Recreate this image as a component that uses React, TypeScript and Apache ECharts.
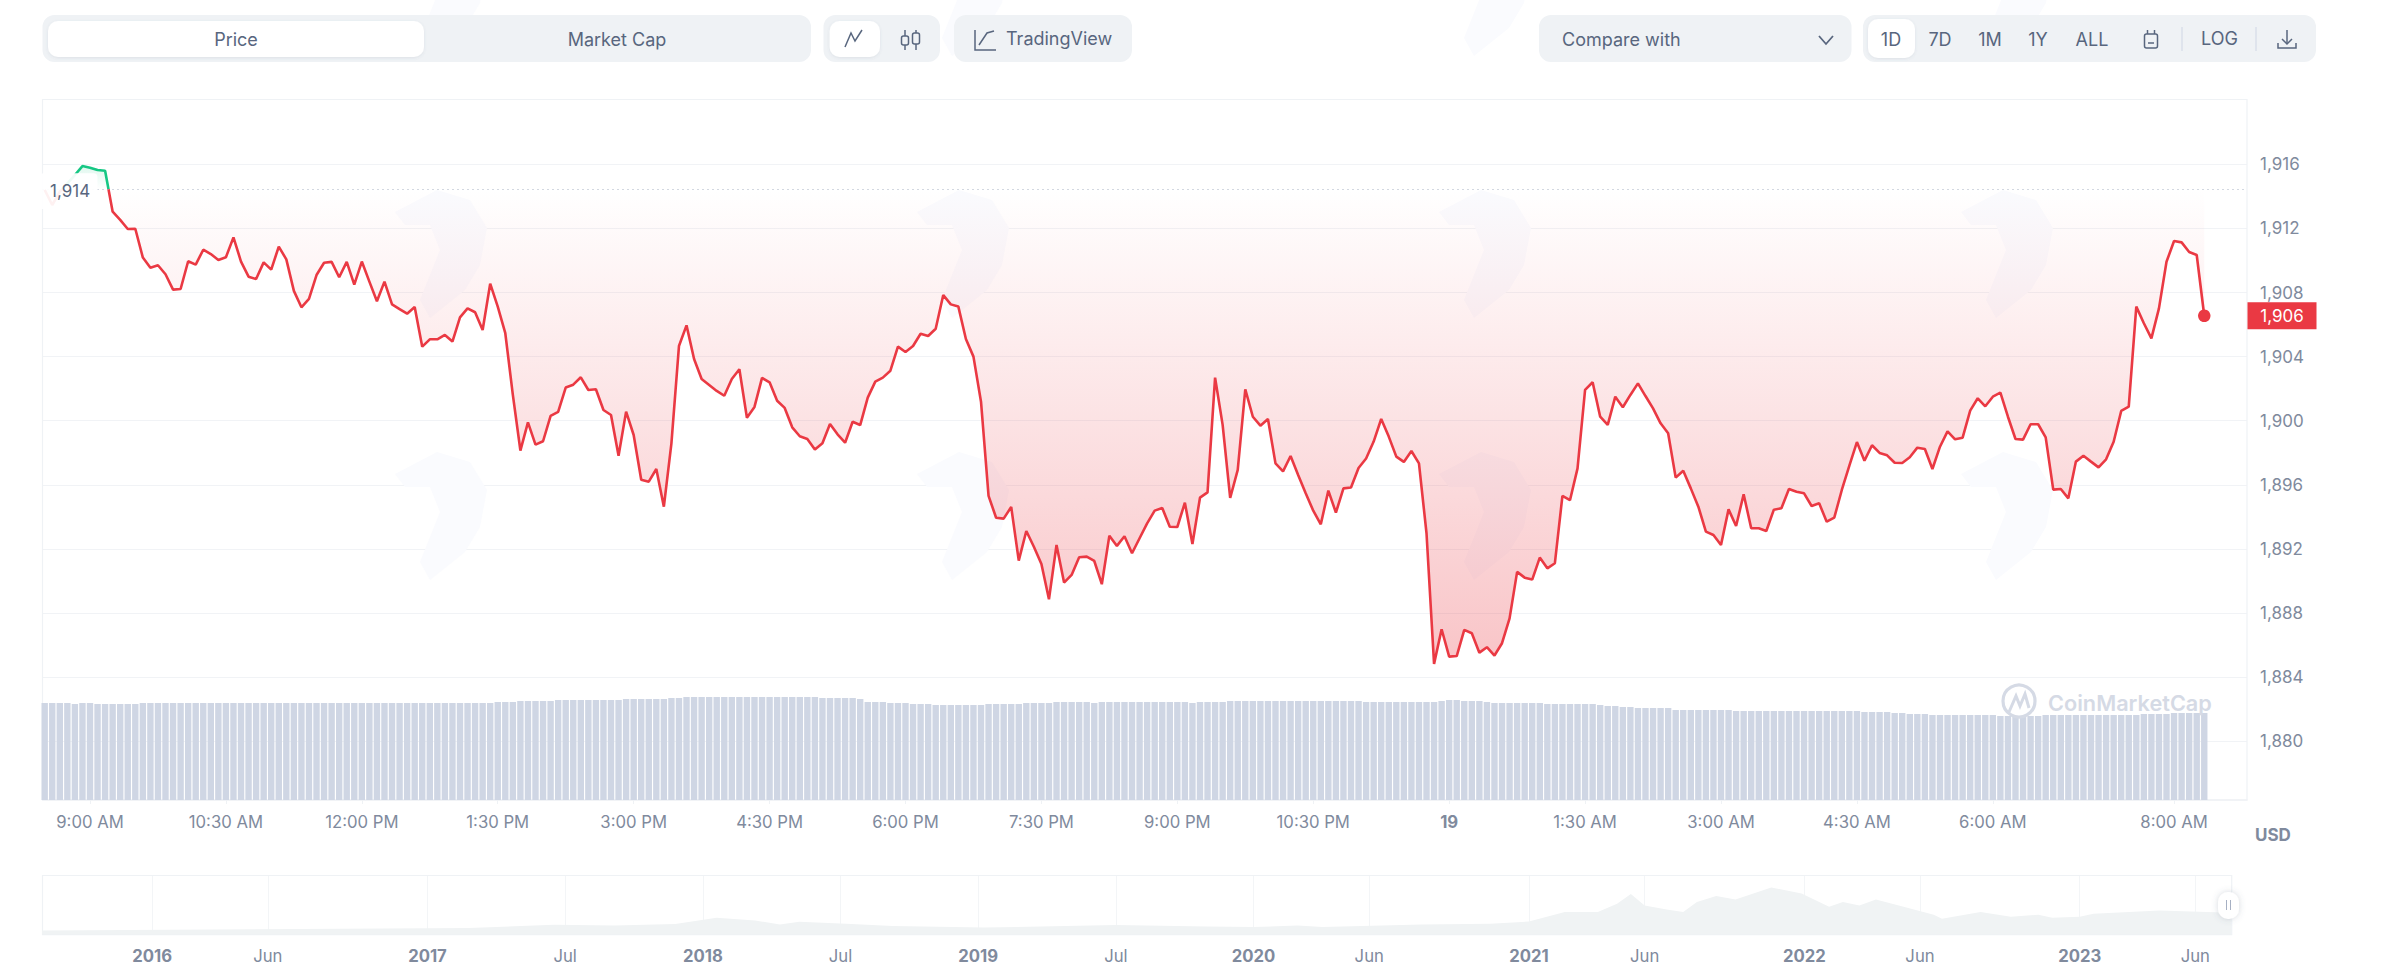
import React, { useEffect, useRef } from "react";
import * as echarts from "echarts";

const FONT = "Inter";
const RED = "#EA3943";
const GREEN = "#16C784";
const LABEL = "#808A9D";
const UI = "#58667E";
const PANEL = "#EFF2F5";

// Price every 5 minutes, starting 8:30 AM
const priceValues = [
  1914.4,1913.46,1914.29,1914.81,1915.33,1915.89,1915.79,1915.64,1915.6,1913.04,
  1912.53,1911.96,1911.98,1910.18,1909.55,1909.7,1909.14,1908.18,1908.22,1909.95,
  1909.74,1910.67,1910.4,1910.03,1910.2,1911.44,1909.93,1908.99,1908.84,1909.88,
  1909.43,1910.86,1910.07,1908.1,1907.08,1907.6,1909.09,1909.86,1909.91,1908.95,
  1909.91,1908.49,1909.93,1908.68,1907.45,1908.68,1907.26,1906.97,1906.68,1907.1,
  1904.62,1905.08,1905.08,1905.35,1904.94,1906.45,1907.01,1906.77,1905.66,1908.55,
  1907.12,1905.46,1901.61,1898.14,1899.9,1898.51,1898.72,1900.3,1900.55,1902.07,
  1902.25,1902.71,1901.92,1901.96,1900.67,1900.36,1897.82,1900.57,1899.11,1896.32,
  1896.2,1896.99,1894.64,1898.59,1904.66,1905.95,1903.85,1902.6,1902.23,1901.86,
  1901.56,1902.6,1903.21,1900.19,1900.86,1902.67,1902.4,1901.25,1900.8,1899.59,
  1899.03,1898.86,1898.2,1898.59,1899.8,1899.15,1898.63,1899.94,1899.73,1901.44,
  1902.44,1902.69,1903.12,1904.62,1904.29,1904.66,1905.43,1905.29,1905.74,1907.84,
  1907.26,1907.12,1905.1,1904.0,1901.19,1895.31,1893.95,1893.89,1894.62,1891.27,
  1893.12,1892.14,1891.06,1888.86,1892.25,1889.9,1890.38,1891.48,1891.52,1891.25,
  1889.8,1892.83,1892.19,1892.79,1891.73,1892.67,1893.6,1894.39,1894.56,1893.39,
  1893.37,1894.89,1892.31,1895.2,1895.53,1902.69,1899.74,1895.18,1896.93,1901.96,
  1900.25,1899.69,1900.11,1897.34,1896.84,1897.8,1896.62,1895.47,1894.39,1893.54,
  1895.64,1894.27,1895.78,1895.83,1897.05,1897.64,1898.7,1900.11,1899.01,1897.76,
  1897.43,1898.11,1897.34,1892.98,1884.83,1886.99,1885.28,1885.32,1886.95,1886.74,
  1885.53,1885.87,1885.35,1886.12,1887.67,1890.57,1890.21,1890.09,1891.46,1890.79,
  1891.11,1895.31,1895.04,1897.03,1901.92,1902.4,1900.25,1899.74,1901.5,1900.84,
  1901.61,1902.33,1901.54,1900.77,1899.84,1899.22,1896.45,1896.88,1895.78,1894.64,
  1893.08,1892.87,1892.25,1894.47,1893.43,1895.41,1893.29,1893.29,1893.12,1894.45,
  1894.54,1895.74,1895.57,1895.47,1894.68,1894.85,1893.7,1893.95,1895.68,1897.2,
  1898.67,1897.51,1898.47,1897.99,1897.84,1897.38,1897.36,1897.72,1898.32,1898.24,
  1896.99,1898.38,1899.34,1898.84,1898.94,1900.63,1901.4,1900.9,1901.5,1901.75,
  1900.25,1898.86,1898.82,1899.78,1899.78,1898.96,1895.7,1895.74,1895.16,1897.45,
  1897.82,1897.45,1897.09,1897.59,1898.69,1900.61,1900.88,1907.12,1906.08,1905.14,
  1907.01,1909.92,1911.21,1911.13,1910.53,1910.34,1906.55,
];

// Volume bars, same 5-minute steps
const volumeValues = [
  97,97,97,97,96,97,97,96,96,96,96,96,96,97,97,97,97,97,97,97,
  97,97,97,97,97,97,97,97,97,97,97,97,97,97,97,97,97,97,97,97,
  97,97,97,97,97,97,97,97,97,97,97,97,97,97,97,97,97,97,97,97,
  98,98,98,99,99,99,99,99,100,100,100,100,100,100,100,100,100,101,101,101,
  101,101,101,102,102,103,103,103,103,103,103,103,103,103,103,103,103,103,103,103,
  103,103,103,102,102,102,102,102,101,98,98,98,97,97,97,96,96,96,95,95,
  95,95,95,95,95,96,96,96,96,96,97,97,97,97,98,98,98,98,98,97,
  98,98,98,98,98,98,98,98,98,98,98,98,97,98,98,98,98,99,99,99,
  99,99,99,99,99,99,99,99,99,99,99,99,99,99,99,98,98,98,98,98,
  98,98,98,98,98,99,100,100,99,99,99,98,97,97,97,97,97,97,97,96,
  96,96,96,96,96,96,95,94,94,93,93,92,92,92,92,92,90,90,90,90,
  90,90,90,90,89,89,89,89,89,89,89,89,89,89,89,89,89,89,89,89,
  89,88,88,88,88,87,87,86,86,86,85,85,85,85,85,85,85,85,85,84,
  84,84,84,84,84,85,85,85,85,85,85,85,85,85,85,85,85,85,86,86,
  86,86,87,87,87,87,87,
];

const timeTickIndex = [6,24,42,60,78,96,114,132,150,168,186,204,222,240,258,282];
const timeTickLabels = ["9:00 AM","10:30 AM","12:00 PM","1:30 PM","3:00 PM","4:30 PM","6:00 PM","7:30 PM","9:00 PM","10:30 PM","19","1:30 AM","3:00 AM","4:30 AM","6:00 AM","8:00 AM"];

const navYears = [2015.6,2017.15,2017.46,2017.68,2017.9,2018.05,2018.19,2018.28,2018.35,2018.52,2018.69,2019.02,2019.5,2019.83,2020.0,2020.16,2020.25,2020.61,2020.86,2021.0,2021.13,2021.25,2021.32,2021.37,2021.42,2021.5,2021.56,2021.61,2021.68,2021.75,2021.88,2021.99,2022.09,2022.14,2022.2,2022.26,2022.35,2022.47,2022.5,2022.64,2022.75,2022.85,2022.9,2023.0,2023.05,2023.29,2023.55];
const navPrices = [400,640,970,900,1040,1670,1400,1000,1270,1070,840,700,940,800,740,900,740,1000,1070,1300,2240,2240,3070,4040,2900,2500,2240,3240,3840,3500,4700,4100,2770,3240,2900,3500,2840,1970,1570,2240,1770,1970,1670,1770,2070,2400,2170];
const navTickYears = [2016,2016.42,2017,2017.5,2018,2018.5,2019,2019.5,2020,2020.42,2021,2021.42,2022,2022.42,2023,2023.42];
const navTickLabels = ["2016","Jun","2017","Jul","2018","Jul","2019","Jul","2020","Jun","2021","Jun","2022","Jun","2023","Jun"];

const rangeButtons = ["1D","7D","1M","1Y","ALL"];
const baselineValue = 1914.44;

const txt = (text: string, x: number, y: number, o: any = {}) => ({
  type: "text", x, y, z: o.z ?? 5, silent: true,
  style: {
    text, fill: o.fill ?? UI,
    font: `${o.weight ?? 400} ${o.size ?? 18}px ${FONT}`,
    textAlign: o.align ?? "center", textVerticalAlign: "middle",
    ...(o.style ?? {}),
  },
});
const box = (x: number, y: number, w: number, h: number, r: number, fill: string, o: any = {}) => ({
  type: "rect", z: o.z ?? 3, silent: true,
  shape: { x, y, width: w, height: h, r },
  style: { fill, ...(o.style ?? {}) },
});
const stroke = (points: number[][], w = 1.6, color = UI) => ({
  type: "polyline", z: 5, silent: true,
  shape: { points }, style: { stroke: color, lineWidth: w, fill: "none" },
});

const softShadow = { shadowColor: "rgba(88,102,126,0.12)", shadowBlur: 3, shadowOffsetY: 1 };

function ghosts() {
  const out: any[] = [];
  const base = [[395,212],[437,190],[470,200],[487,228],[480,265],[465,290],[430,318],[420,300],[440,250],[430,225],[405,225]];
  [0, 522, 1044, 1566].forEach((dx) => {
    [-262, 0, 262].forEach((dy) => {
      out.push({
        type: "polygon", z: 0, silent: true,
        shape: { points: base.map(([x, y]) => [x + dx, y + dy]) },
        style: { fill: "#FAFBFE" },
      });
    });
  });
  return out;
}

function chrome() {
  return [
    ...ghosts(),
    box(42.5, 99.5, 2204.5, 700.5, 0, "none", { z: 1, style: { stroke: "#EFF2F5", lineWidth: 1.2 } }),
    box(42.5, 875.5, 2189.2, 59.2, 0, "none", { z: 1, style: { stroke: "#EFF2F5", lineWidth: 1.2 } }),

    box(42.5, 15, 768.5, 47, 12, PANEL),
    box(48, 21, 376, 36, 10, "#fff", { z: 4, style: softShadow }),
    txt("Price", 236, 39),
    txt("Market Cap", 617, 39),

    box(823.5, 15, 116.5, 47, 12, PANEL),
    box(829.6, 21, 50.4, 36, 10, "#fff", { z: 4, style: softShadow }),
    stroke([[845,47],[851,33],[855,41],[862,30]], 1.5),
    stroke([[905,30],[905,50]], 1.5),
    stroke([[916,30],[916,50]], 1.5),
    box(901.5, 36, 7, 9, 2, PANEL, { z: 5, style: { stroke: UI, lineWidth: 1.5 } }),
    box(912.5, 33, 7, 11, 2, PANEL, { z: 5, style: { stroke: UI, lineWidth: 1.5 } }),

    box(954, 15, 178, 47, 12, PANEL),
    stroke([[975,30],[975,50],[996,50]], 1.5),
    stroke([[979,45],[987,33],[994,31]], 1.5),
    txt("TradingView", 1006, 38, { align: "left" }),

    box(1539, 15, 312.5, 47, 12, PANEL),
    txt("Compare with", 1562, 39, { align: "left" }),
    stroke([[1819,36],[1826,44],[1833,36]], 1.8),

    box(1863, 15, 453, 47, 12, PANEL),
    box(1868, 19, 47, 39, 10, "#fff", { z: 4, style: softShadow }),
    ...rangeButtons.map((b, i) => txt(b, [1891, 1940, 1990, 2038, 2092][i], 39)),
    box(2144.5, 34, 13, 14, 2, "none", { z: 5, style: { stroke: UI, lineWidth: 1.5 } }),
    stroke([[2147.5,30],[2147.5,34]], 1.5),
    stroke([[2154.5,30],[2154.5,34]], 1.5),
    stroke([[2148,43],[2154,43]], 1.5),
    stroke([[2182,27],[2182,51]], 1, "#CFD6E4"),
    txt("LOG", 2219.5, 38),
    stroke([[2256,27],[2256,51]], 1, "#CFD6E4"),
    stroke([[2287,30],[2287,44]], 1.5),
    stroke([[2282,39],[2287,44],[2292,39]], 1.5),
    stroke([[2278,43],[2278,48],[2296,48],[2296,43]], 1.5),

    txt("USD", 2255, 835, { align: "left", fill: LABEL, weight: 700, size: 17 }),

    { type: "circle", z: 8, silent: true, shape: { cx: 2019, cy: 701, r: 16 }, style: { fill: "none", stroke: "#D5DAE5", lineWidth: 3.2 } },
    { type: "polyline", z: 8, silent: true, shape: { points: [[2009,712],[2016,696],[2020,706],[2025,694],[2029,708]] }, style: { stroke: "#D5DAE5", lineWidth: 3, fill: "none" } },
    txt("CoinMarketCap", 2048, 703, { align: "left", fill: "#D5DAE5", weight: 600, size: 21.7, z: 8 }),

    box(2218, 892, 21, 27, 10, "#fff", { z: 9, style: { shadowColor: "rgba(88,102,126,0.25)", shadowBlur: 6 } }),
    { ...stroke([[2226.5,900],[2226.5,910]], 1, "#A6B0C3"), z: 10 },
    { ...stroke([[2230.5,900],[2230.5,910]], 1, "#A6B0C3"), z: 10 },
  ];
}

export default function App() {
  const ref = useRef<HTMLDivElement>(null);

  useEffect(() => {
    const chart = echarts.init(ref.current!, undefined, { renderer: "svg" });
    const labelBase = { color: LABEL, fontFamily: FONT, fontSize: 16.7 };
    const boldRich = { b: { color: LABEL, fontFamily: FONT, fontSize: 16.7, fontWeight: 700 } };
    const XMIN = -0.29;
    const XMAX = 291.66;
    const split = 0.048;

    chart.setOption({
      animation: false,
      backgroundColor: "#fff",
      grid: [
        { left: 42.5, width: 2204.5, top: 100.18, height: 705.22 },
        { left: 42.5, width: 2204.5, top: 690, height: 110 },
        { left: 42.5, width: 2189.2, top: 875.5, height: 59 },
      ],
      xAxis: [
        { type: "value", gridIndex: 0, min: XMIN, max: XMAX, show: false },
        {
          type: "value", gridIndex: 1, min: XMIN, max: XMAX,
          splitLine: { show: false },
          axisLine: { show: true, lineStyle: { color: "#EFF2F5", width: 1.5 } },
          axisTick: { show: true, length: 4, customValues: timeTickIndex, lineStyle: { color: "#EFF2F5" } },
          axisLabel: {
            ...labelBase, margin: 13, customValues: timeTickIndex, rich: boldRich,
            formatter: (v: number) => {
              const s = timeTickLabels[timeTickIndex.indexOf(v)] ?? "";
              return s === "19" ? `{b|${s}}` : s;
            },
          },
        },
        {
          type: "value", gridIndex: 2, min: 2015.602, max: 2023.552,
          splitLine: { show: true, lineStyle: { color: "#F3F5F7" } },
          axisLine: { show: false },
          axisTick: { show: false, customValues: navTickYears },
          axisLabel: {
            ...labelBase, margin: 13, customValues: navTickYears, rich: boldRich,
            formatter: (v: number) => {
              const s = navTickLabels[navTickYears.indexOf(v)] ?? "";
              return /^\d/.test(s) ? `{b|${s}}` : s;
            },
          },
        },
      ],
      yAxis: [
        {
          type: "value", gridIndex: 0, position: "right", min: 1876, max: 1920, interval: 4,
          axisLine: { show: false }, axisTick: { show: false },
          splitLine: { show: true, showMinLine: false, showMaxLine: false, lineStyle: { color: "#F1F3F6" } },
          axisLabel: { ...labelBase, fontSize: 17, margin: 13, padding: [0, 0, 3, 0], showMinLabel: false, showMaxLabel: false,
            formatter: (v: number) => v.toLocaleString("en-US") },
        },
        { type: "value", gridIndex: 1, min: 0, max: 110, show: false },
        { type: "value", gridIndex: 2, min: 0, max: 5900, show: false },
      ],
      series: [
        {
          type: "bar", xAxisIndex: 1, yAxisIndex: 1, barWidth: 6.4, z: 2,
          data: volumeValues.map((v, i) => [i, v]),
          itemStyle: { color: "#CFD6E4" },
          silent: true,
        },
        {
          type: "line", xAxisIndex: 0, yAxisIndex: 0, z: 3,
          data: priceValues.map((v, i) => [i, v]),
          showSymbol: false, symbol: "none", smooth: false, silent: true,
          lineStyle: {
            width: 2.6,
            color: {
              type: "linear", x: 0, y: 165, x2: 0, y2: 670, global: true,
              colorStops: [
                { offset: 0, color: GREEN },
                { offset: split, color: GREEN },
                { offset: split, color: RED },
                { offset: 1, color: RED },
              ],
            },
          },
          areaStyle: {
            origin: baselineValue, opacity: 1,
            color: {
              type: "linear", x: 0, y: 165, x2: 0, y2: 670, global: true,
              colorStops: [
                { offset: 0, color: "rgba(22,199,132,0.14)" },
                { offset: split, color: "rgba(22,199,132,0)" },
                { offset: split, color: "rgba(234,57,67,0)" },
                { offset: 1, color: "rgba(234,57,67,0.3)" },
              ],
            },
          },
          markLine: {
            silent: true, symbol: "none", animation: false,
            label: { show: false },
            lineStyle: { color: "#A6B0C3", type: [1, 4], width: 1 },
            data: [{ yAxis: baselineValue }],
          },
          markPoint: {
            silent: true, symbol: "circle", symbolSize: 12.5, animation: false,
            itemStyle: { color: RED }, label: { show: false },
            data: [{ coord: [priceValues.length - 1, priceValues[priceValues.length - 1]] }],
          },
        },
        {
          type: "line", xAxisIndex: 2, yAxisIndex: 2, z: 2,
          data: navYears.map((y, i) => [y, navPrices[i]]),
          showSymbol: false, symbol: "none", silent: true,
          lineStyle: { width: 0 },
          itemStyle: { color: "#F0F3F4" },
          areaStyle: { color: "#F0F3F4", opacity: 1 },
        },
      ],
    });

    const last = priceValues[priceValues.length - 1];
    const yLast = chart.convertToPixel({ yAxisIndex: 0 }, last) as number;
    const yBase = chart.convertToPixel({ yAxisIndex: 0 }, baselineValue) as number;

    chart.setOption({
      graphic: {
        elements: [
          ...chrome(),
          box(40, yBase - 16, 57.5, 36, 4, "rgba(255,255,255,0.93)", { z: 20 }),
          txt(Math.floor(baselineValue).toLocaleString("en-US"), 50, yBase + 1.5, { align: "left", z: 21, size: 17 }),
          box(2247.5, yLast - 13.5, 69, 27, 0, RED, { z: 20 }),
          txt(Math.floor(last).toLocaleString("en-US"), 2282, yLast, { fill: "#fff", z: 21, size: 17 }),
        ],
      },
    });

    return () => chart.dispose();
  }, []);

  return (
    <div
      ref={ref}
      style={{ position: "fixed", left: 0, top: 0, width: 2406, height: 978, background: "#fff" }}
    />
  );
}
